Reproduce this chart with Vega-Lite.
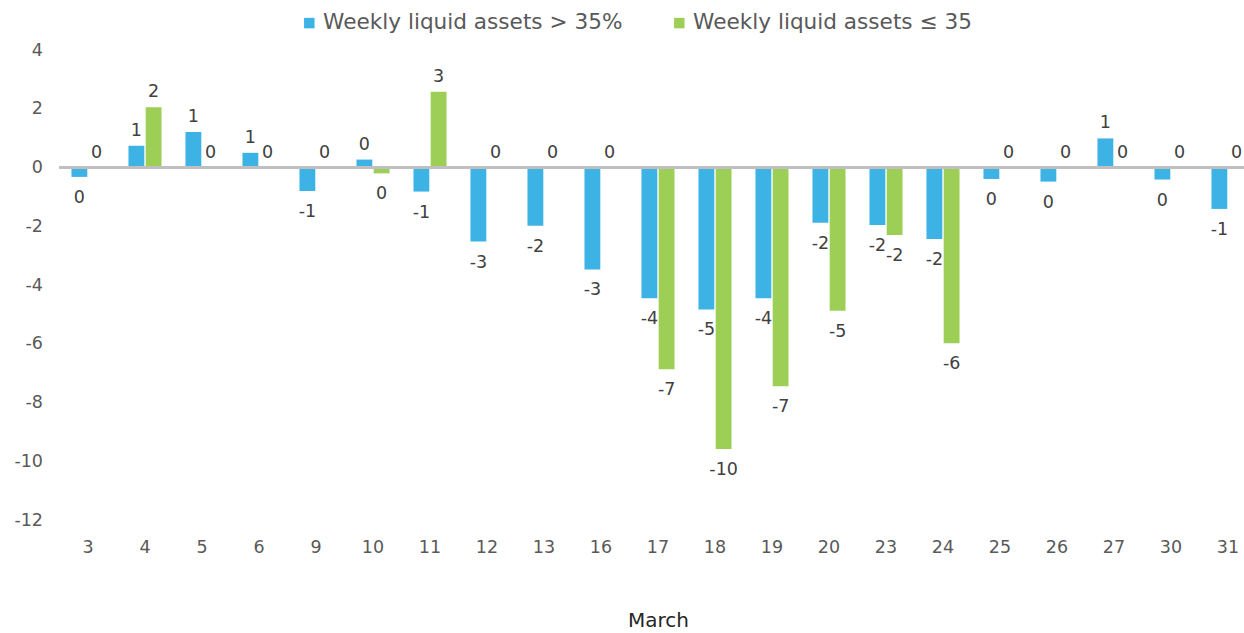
{
  "$schema": "https://vega.github.io/schema/vega-lite/v6.json",
  "autosize": "none",
  "width": 1184.5,
  "height": 470,
  "padding": {"left": 59.5, "top": 50, "right": 0, "bottom": 113},
  "background": "white",
  "config": {"view": {"stroke": null}, "font": "DejaVu Sans"},
  "data": {"values": [
    {"day": "3", "series": "Weekly liquid assets > 35%", "value": -0.32, "label": "0"},
    {"day": "3", "series": "Weekly liquid assets ≤ 35", "value": 0, "label": "0"},
    {"day": "4", "series": "Weekly liquid assets > 35%", "value": 0.74, "label": "1"},
    {"day": "4", "series": "Weekly liquid assets ≤ 35", "value": 2.05, "label": "2"},
    {"day": "5", "series": "Weekly liquid assets > 35%", "value": 1.21, "label": "1"},
    {"day": "5", "series": "Weekly liquid assets ≤ 35", "value": 0, "label": "0"},
    {"day": "6", "series": "Weekly liquid assets > 35%", "value": 0.5, "label": "1"},
    {"day": "6", "series": "Weekly liquid assets ≤ 35", "value": 0, "label": "0"},
    {"day": "9", "series": "Weekly liquid assets > 35%", "value": -0.8, "label": "-1"},
    {"day": "9", "series": "Weekly liquid assets ≤ 35", "value": 0, "label": "0"},
    {"day": "10", "series": "Weekly liquid assets > 35%", "value": 0.27, "label": "0"},
    {"day": "10", "series": "Weekly liquid assets ≤ 35", "value": -0.2, "label": "0"},
    {"day": "11", "series": "Weekly liquid assets > 35%", "value": -0.82, "label": "-1"},
    {"day": "11", "series": "Weekly liquid assets ≤ 35", "value": 2.58, "label": "3"},
    {"day": "12", "series": "Weekly liquid assets > 35%", "value": -2.52, "label": "-3"},
    {"day": "12", "series": "Weekly liquid assets ≤ 35", "value": 0, "label": "0"},
    {"day": "13", "series": "Weekly liquid assets > 35%", "value": -1.98, "label": "-2"},
    {"day": "13", "series": "Weekly liquid assets ≤ 35", "value": 0, "label": "0"},
    {"day": "16", "series": "Weekly liquid assets > 35%", "value": -3.47, "label": "-3"},
    {"day": "16", "series": "Weekly liquid assets ≤ 35", "value": 0, "label": "0"},
    {"day": "17", "series": "Weekly liquid assets > 35%", "value": -4.45, "label": "-4"},
    {"day": "17", "series": "Weekly liquid assets ≤ 35", "value": -6.87, "label": "-7"},
    {"day": "18", "series": "Weekly liquid assets > 35%", "value": -4.83, "label": "-5"},
    {"day": "18", "series": "Weekly liquid assets ≤ 35", "value": -9.58, "label": "-10"},
    {"day": "19", "series": "Weekly liquid assets > 35%", "value": -4.45, "label": "-4"},
    {"day": "19", "series": "Weekly liquid assets ≤ 35", "value": -7.45, "label": "-7"},
    {"day": "20", "series": "Weekly liquid assets > 35%", "value": -1.88, "label": "-2"},
    {"day": "20", "series": "Weekly liquid assets ≤ 35", "value": -4.88, "label": "-5"},
    {"day": "23", "series": "Weekly liquid assets > 35%", "value": -1.96, "label": "-2"},
    {"day": "23", "series": "Weekly liquid assets ≤ 35", "value": -2.3, "label": "-2"},
    {"day": "24", "series": "Weekly liquid assets > 35%", "value": -2.43, "label": "-2"},
    {"day": "24", "series": "Weekly liquid assets ≤ 35", "value": -5.98, "label": "-6"},
    {"day": "25", "series": "Weekly liquid assets > 35%", "value": -0.39, "label": "0"},
    {"day": "25", "series": "Weekly liquid assets ≤ 35", "value": 0, "label": "0"},
    {"day": "26", "series": "Weekly liquid assets > 35%", "value": -0.48, "label": "0"},
    {"day": "26", "series": "Weekly liquid assets ≤ 35", "value": 0, "label": "0"},
    {"day": "27", "series": "Weekly liquid assets > 35%", "value": 0.99, "label": "1"},
    {"day": "27", "series": "Weekly liquid assets ≤ 35", "value": 0, "label": "0"},
    {"day": "30", "series": "Weekly liquid assets > 35%", "value": -0.41, "label": "0"},
    {"day": "30", "series": "Weekly liquid assets ≤ 35", "value": 0, "label": "0"},
    {"day": "31", "series": "Weekly liquid assets > 35%", "value": -1.41, "label": "-1"},
    {"day": "31", "series": "Weekly liquid assets ≤ 35", "value": 0, "label": "0"}
  ]},
  "encoding": {
    "x": {
      "field": "day", "type": "nominal", "sort": null,
      "scale": {"range": [0, 1197], "paddingInner": 0.42, "paddingOuter": 0.21},
      "axis": {"title": "March", "labelAngle": 0, "domain": false, "ticks": false,
        "labelPadding": 18, "labelFontSize": 17.5, "labelColor": "#595959",
        "titleFontSize": 20, "titleFontWeight": "normal", "titleColor": "#262626", "titlePadding": 55}
    },
    "xOffset": {"field": "series", "type": "nominal", "sort": ["Weekly liquid assets > 35%", "Weekly liquid assets ≤ 35"], "scale": {"paddingInner": 0.08}},
    "y": {
      "field": "value", "type": "quantitative",
      "scale": {"domain": [-12, 4], "nice": false, "zero": false},
      "axis": {"title": null, "values": [-12, -10, -8, -6, -4, -2, 0, 2, 4], "grid": false, "domain": false, "ticks": false,
        "labelPadding": 17, "labelFontSize": 17.5, "labelColor": "#595959", "labelExpr": "'' + datum.value"}
    }
  },
  "layer": [
    {
      "mark": {"type": "bar"},
      "encoding": {
        "y2": {"datum": 0},
        "color": {
          "field": "series", "type": "nominal",
          "scale": {"domain": ["Weekly liquid assets > 35%", "Weekly liquid assets ≤ 35"], "range": ["#3DB2E5", "#9DCF57"]},
          "legend": {"title": null, "orient": "none", "direction": "horizontal", "legendX": 239, "legendY": -38,
            "symbolType": "square", "symbolSize": 110, "symbolStrokeWidth": 0, "labelFontSize": 21.6, "labelColor": "#595959",
            "labelOffset": 3, "columnPadding": 46, "labelLimit": 400}
        }
      }
    },
    {
      "mark": {"type": "rule", "color": "#BFBFBF", "strokeWidth": 2},
      "encoding": {"x": {"value": 0}, "x2": {"value": 1184.5}, "y": {"datum": 0}, "xOffset": null}
    },
    {
      "transform": [{"filter": "datum.value >= 0"}],
      "mark": {"type": "text", "baseline": "alphabetic", "dy": -10, "fontSize": 17.5, "color": "#404040"},
      "encoding": {"text": {"field": "label"}}
    },
    {
      "transform": [{"filter": "datum.value < 0"}],
      "mark": {"type": "text", "baseline": "top", "dy": 12, "fontSize": 17.5, "color": "#404040"},
      "encoding": {"text": {"field": "label"}}
    }
  ]
}
